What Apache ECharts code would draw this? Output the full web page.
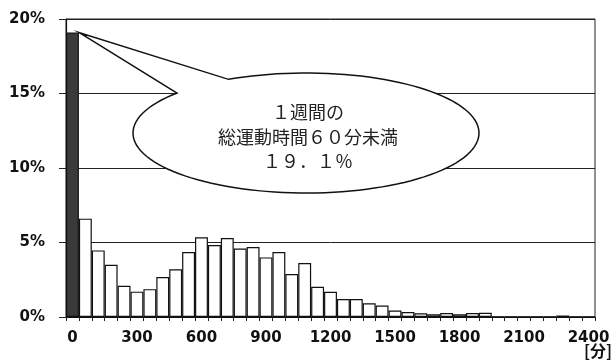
<!DOCTYPE html>
<html>
<head>
<meta charset="utf-8">
<script src="https://cdn.jsdelivr.net/npm/echarts@6/dist/echarts.min.js"></script>
<style>
html,body{margin:0;padding:0;background:#fff;}
#c{width:616px;height:361px;}
</style>
</head>
<body>
<div id="c"></div>
<script>
// categories: start of each 60-minute class [min]
const categories = ['0','60','120','180','240','300','360','420','480','540',
  '600','660','720','780','840','900','960','1020','1080','1140',
  '1200','1260','1320','1380','1440','1500','1560','1620','1680','1740',
  '1800','1860','1920','1980','2040','2100','2160','2220','2280','2340','2400'];
// share of respondents [%]
const shares = [19.1, 6.6, 4.47, 3.5, 2.1, 1.7, 1.87, 2.68, 3.2, 4.36,
  5.35, 4.83, 5.3, 4.6, 4.7, 4.0, 4.36, 2.88, 3.62, 2.03,
  1.69, 1.21, 1.21, 0.92, 0.77, 0.44, 0.34, 0.25, 0.18, 0.27,
  0.18, 0.27, 0.29, 0.03, 0.03, 0.03, 0.03, 0.03, 0.1, 0.03, 0.02];
const yTicks = [0, 5, 10, 15, 20];
const calloutLines = ['１週間の', '総運動時間６０分未満', '１９．１％'];
const unitLabel = '[分]';

const chart = echarts.init(document.getElementById('c'), null, {renderer: 'canvas'});
const axisFont = {fontFamily: 'DejaVu Sans', fontSize: 15, fontWeight: 'bold', color: '#111'};

chart.setOption({
  animation: false,
  backgroundColor: '#fff',
  grid: {left: 66, right: 21, top: 19, bottom: 44, show: true, borderColor: '#222', borderWidth: 1},
  xAxis: {
    type: 'category',
    data: categories,
    boundaryGap: true,
    axisLine: {lineStyle: {color: '#111', width: 1.2}},
    axisTick: {show: true, interval: 0, length: 4, lineStyle: {color: '#222'}},
    axisLabel: Object.assign({interval: 4, margin: 14}, axisFont)
  },
  yAxis: {
    type: 'value',
    min: yTicks[0],
    max: yTicks[yTicks.length - 1],
    interval: yTicks[1] - yTicks[0],
    axisLine: {show: true, lineStyle: {color: '#111', width: 1.2}},
    axisTick: {show: true, length: 7, lineStyle: {color: '#222'}},
    splitLine: {show: true, lineStyle: {color: '#222', width: 1}},
    axisLabel: Object.assign({margin: 21, formatter: '{value}%'}, axisFont)
  },
  series: [{
    type: 'bar',
    barCategoryGap: '0%',
    data: shares.map((v, i) => i === 0
      ? {value: v, itemStyle: {color: '#3a3a3a', borderColor: '#111', borderWidth: 1.2}}
      : v),
    itemStyle: {color: '#fff', borderColor: '#111', borderWidth: 1.2},
    silent: true
  }]
});

// callout bubble anchored at the top-right corner of the first bar
const firstTop = chart.convertToPixel({gridIndex: 0}, [0, shares[0]]);
const barW = chart.convertToPixel({gridIndex: 0}, [1, 0])[0] - firstTop[0];
const tip = [firstTop[0] + barW / 2, firstTop[1]];
const cx = 306, cy = 133, rx = 173, ry = 60;
// tail base angles on the ellipse (screen coords, y down)
const a1 = Math.atan2((93 - cy) / ry, (177 - cx) / rx);
const a2 = Math.atan2((79 - cy) / ry, (228 - cx) / rx);
const start = a1 < 0 ? a1 + 2 * Math.PI : a1;
const end = a2 < 0 ? a2 + 2 * Math.PI : a2;
const endAngle = end - 2 * Math.PI;
const bubble = [tip];
const steps = 120;
for (let k = 0; k <= steps; k++) {
  const t = start + (endAngle - start) * k / steps;
  bubble.push([cx + rx * Math.cos(t), cy + ry * Math.sin(t)]);
}

chart.setOption({
  graphic: [
    {type: 'polygon', shape: {points: bubble}, style: {fill: '#fff', stroke: '#111', lineWidth: 1.5, lineJoin: 'miter'}, z: 10},
    {type: 'text', x: cx + 2, y: cy + 4, z: 11,
      style: {text: calloutLines.join('\n'), fill: '#222', font: '18px "Noto Sans CJK JP"',
        align: 'center', verticalAlign: 'middle', lineHeight: 24.5}},
    {type: 'text', x: 598, y: 351, z: 11,
      style: {text: unitLabel, fill: '#111', font: 'bold 16px "Noto Sans CJK JP"',
        align: 'center', verticalAlign: 'middle'}}
  ]
});
</script>
</body>
</html>
